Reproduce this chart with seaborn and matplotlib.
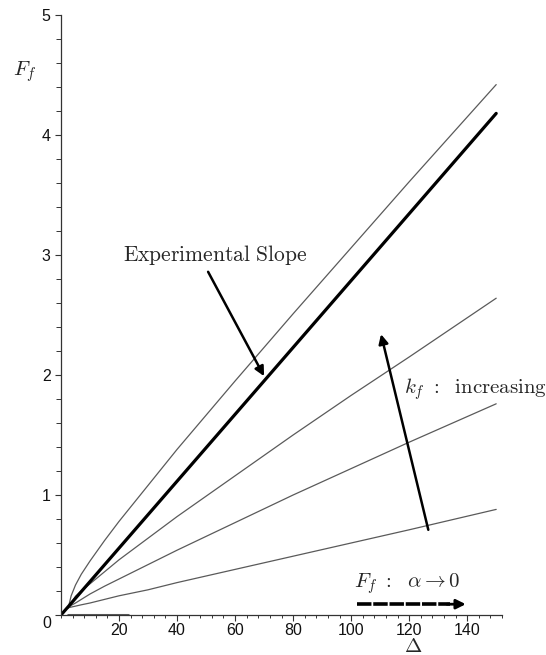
import numpy as np
import pandas as pd
import matplotlib
matplotlib.use("Agg")
import matplotlib.pyplot as plt
import seaborn as sns
from matplotlib.ticker import MultipleLocator

# Displacement samples (Delta) and friction force curves F_f
delta = [2.5, 3.5, 5, 7, 10, 15, 20, 30, 40, 60, 80, 100, 120, 150]
f_upper = [0.06, 0.16, 0.25, 0.34, 0.45, 0.62, 0.78, 1.08, 1.38, 1.95,
           2.51, 3.06, 3.61, 4.42]
f_kf_high = [0.06, 0.10, 0.156, 0.20, 0.26, 0.36, 0.46, 0.64, 0.82, 1.16,
             1.50, 1.83, 2.15, 2.64]
f_kf_mid = [0.06, 0.08, 0.10, 0.13, 0.175, 0.24, 0.30, 0.42, 0.54, 0.77,
            1.00, 1.22, 1.44, 1.76]
f_kf_low = [0.06, 0.066, 0.074, 0.085, 0.10, 0.13, 0.16, 0.21, 0.27, 0.38,
            0.49, 0.60, 0.71, 0.88]

# Experimental slope (straight line through the origin)
delta_exp = [0, 150]
f_exp = [0, 4.18]

# Limit curve for alpha -> 0, lying on the axis
delta_alpha0 = [2.5, 23]
f_alpha0 = [0, 0]

x_ticks = [20, 40, 60, 80, 100, 120, 140]
y_ticks = [1, 2, 3, 4, 5]

sns.set_style("ticks")
plt.rcParams["mathtext.fontset"] = "cm"
plt.rcParams["font.family"] = ["Liberation Sans", "DejaVu Sans"]

fig = plt.figure(figsize=(5.46, 6.55), dpi=100)
ax = fig.add_axes([61 / 546, 40 / 655, 441 / 546, 600 / 655])

thin = pd.concat([
    pd.DataFrame({"delta": delta, "F": f, "curve": name})
    for name, f in [("upper", f_upper), ("kf_high", f_kf_high),
                    ("kf_mid", f_kf_mid), ("kf_low", f_kf_low)]
])
sns.lineplot(data=thin, x="delta", y="F", units="curve", estimator=None,
             sort=False, color="#5a5a5a", lw=0.9, ax=ax)
sns.lineplot(x=delta_exp, y=f_exp, color="black", lw=2.3, ax=ax)
sns.lineplot(x=delta_alpha0, y=f_alpha0, color="#555555", lw=2.2, ax=ax,
             zorder=4)

ax.set_xlim(0, 152)
ax.set_ylim(0, 5)
ax.set_xlabel("")
ax.set_ylabel("")
sns.despine(ax=ax)
for s in ("left", "bottom"):
    ax.spines[s].set_linewidth(0.9)
    ax.spines[s].set_color("#333333")

ax.set_xticks(x_ticks)
ax.set_yticks([0] + y_ticks)
ax.set_yticklabels([""] + [str(v) for v in y_ticks])
ax.xaxis.set_minor_locator(MultipleLocator(4))
ax.yaxis.set_minor_locator(MultipleLocator(0.2))
ax.tick_params(axis="both", which="major", direction="out", length=4.5,
               width=0.8, labelsize=11.5, color="#333333",
               labelcolor="#111111")
ax.tick_params(axis="x", which="minor", direction="out", length=2.5,
               width=0.7, color="#333333")
ax.tick_params(axis="y", which="minor", direction="out", length=3.5,
               width=0.7, color="#333333")
ax.tick_params(axis="x", which="major", pad=1.5)
ax.tick_params(axis="y", which="major", pad=3)

fig.text(47 / 546, 1 - 623 / 655, "0", fontsize=11.5, ha="center",
         va="center", color="#111111")
fig.text(25 / 546, 1 - 72 / 655, r"$F_f$", fontsize=15, ha="center",
         va="center")
fig.text(413 / 546, 1 - 646 / 655, r"$\Delta$", fontsize=15, ha="center",
         va="center")

ax.text(53, 3.0, r"$\mathrm{Experimental\ Slope}$", fontsize=15.5,
        ha="center", va="center")
ax.annotate("", xy=(70.0, 1.99), xytext=(50.7, 2.86),
            arrowprops=dict(arrowstyle="-|>", lw=1.8, color="black",
                            mutation_scale=14, shrinkA=0, shrinkB=0))

ax.text(118.3, 1.88, r"$k_f\ :\ \ \mathrm{increasing}$", fontsize=15,
        ha="left", va="center")
ax.annotate("", xy=(110.3, 2.34), xytext=(126.6, 0.71),
            arrowprops=dict(arrowstyle="-|>", lw=1.8, color="black",
                            mutation_scale=14, shrinkA=0, shrinkB=0))

ax.text(101.0, 0.26, r"$F_f\ :\ \ \alpha \rightarrow 0$", fontsize=15,
        ha="left", va="center")
ax.plot([102, 134], [0.09, 0.09], color="black", lw=2.6,
        linestyle=(0, (4, 0.5)), solid_capstyle="butt")
ax.annotate("", xy=(139.5, 0.09), xytext=(133, 0.09),
            arrowprops=dict(arrowstyle="-|>", lw=2.0, color="black",
                            mutation_scale=14, shrinkA=0, shrinkB=0))

fig.savefig("out.png", dpi=100)
